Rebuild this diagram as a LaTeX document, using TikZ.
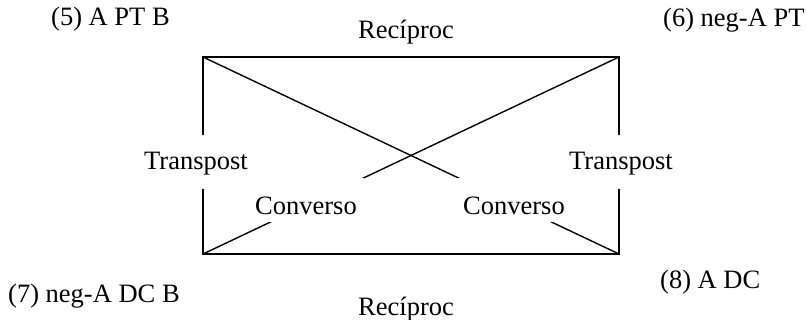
\documentclass[tikz,border=0pt]{standalone}
\usepackage{fontspec}
\setmainfont{Liberation Serif}
\tikzset{
  lbl/.style={font=\fontsize{26.5}{31}\selectfont, inner sep=0pt, text=black},
  cornerlbl/.style={lbl, anchor=base west},
  relbox/.style={lbl, fill=white, anchor=base, inner ysep=0pt},
  sqedge/.style={draw=black, line width=1.4pt, line join=miter}
}
\begin{document}
\begin{tikzpicture}[x=1pt,y=-1pt]
  \useasboundingbox (0,0) rectangle (807,320);
  % corners of the square
  \coordinate (ptb)  at (203,57);
  \coordinate (npt)  at (619,57);
  \coordinate (ndcb) at (203,254);
  \coordinate (adc)  at (619,254);

  \draw[sqedge] (ptb) -- (npt) -- (adc) -- (ndcb) -- cycle;
  \draw[sqedge] (ptb) -- (adc);
  \draw[sqedge] (npt) -- (ndcb);

  % relation labels
  \node[relbox, inner xsep=2pt, text height=35pt, text depth=19pt] (transL) at (196,170) {Transpost};
  \node[relbox, inner xsep=2pt, text height=35pt, text depth=19pt] (transR) at (621,170) {Transpost};
  \node[relbox, inner xsep=7pt, text height=37pt, text depth=7pt] (convL) at (306,215) {Converso};
  \node[relbox, inner xsep=7pt, text height=37pt, text depth=7pt] (convR) at (514,215) {Converso};
  \node[lbl, anchor=base] (recT) at (406,39) {Recíproc};
  \node[lbl, anchor=base] (recB) at (406,316) {Recíproc};

  % corner labels
  \node[cornerlbl] (l5) at (51,26) {(5) A PT B};
  \node[cornerlbl] (l6) at (663,27) {(6) neg-A PT};
  \node[cornerlbl] (l7) at (8,303) {(7) neg-A DC B};
  \node[cornerlbl] (l8) at (660,289) {(8) A DC};
\end{tikzpicture}
\end{document}
